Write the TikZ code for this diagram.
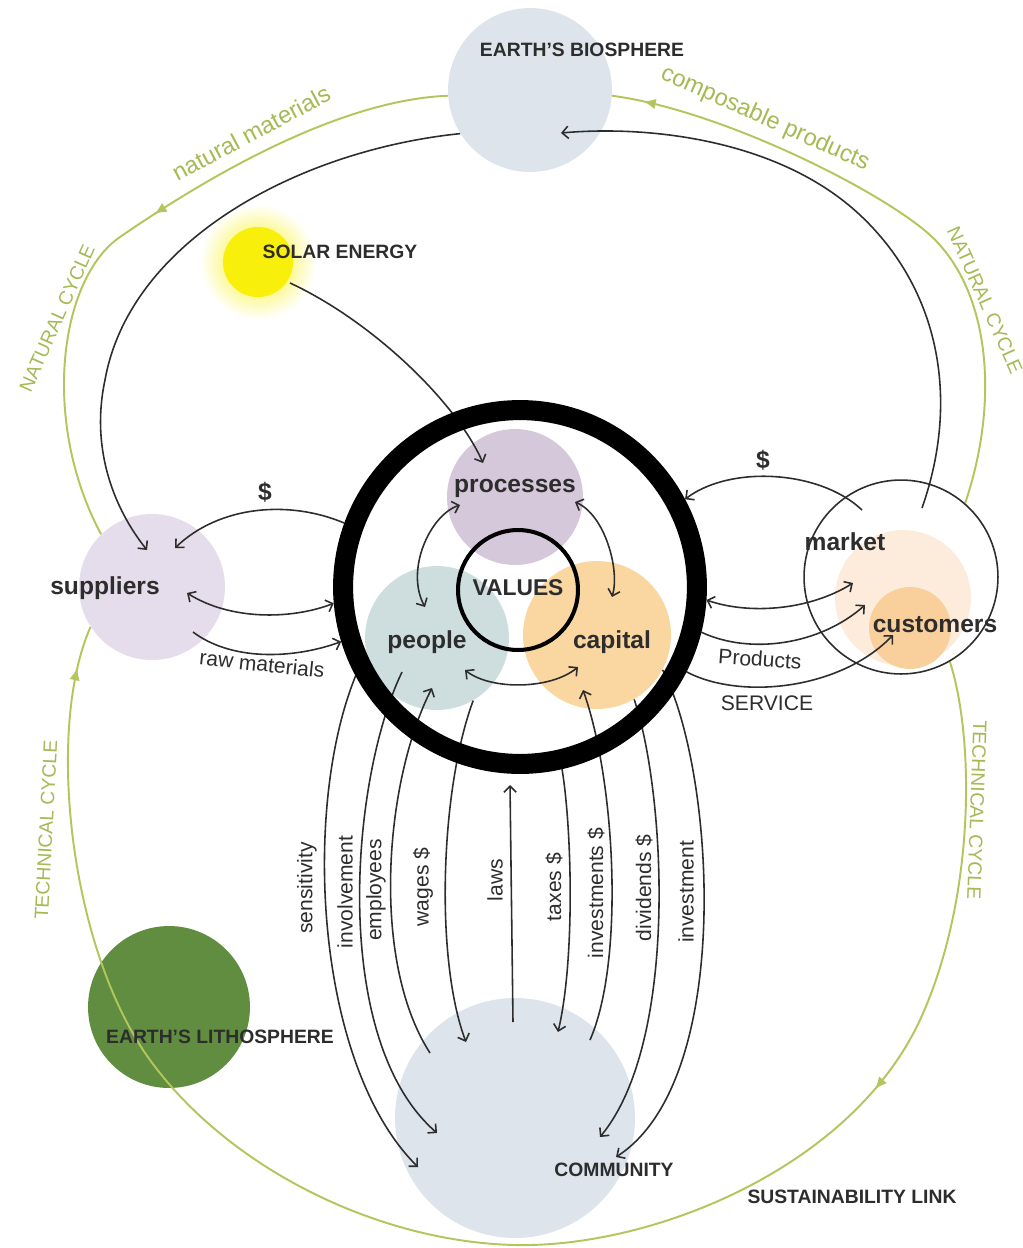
\documentclass[tikz,border=0pt]{standalone}
\usepackage{fontspec}
\setmainfont{Liberation Sans}
\usepackage{tikz}
\usetikzlibrary{arrows.meta, decorations.markings}
\definecolor{ink}{RGB}{45, 45, 45}
\definecolor{sky}{RGB}{222, 228, 236}
\definecolor{lilac}{RGB}{229, 221, 235}
\definecolor{mauve}{RGB}{214, 200, 219}
\definecolor{sage}{RGB}{206, 222, 222}
\definecolor{apricot}{RGB}{250, 214, 160}
\definecolor{cream}{RGB}{253, 236, 220}
\definecolor{peach}{RGB}{249, 208, 156}
\definecolor{moss}{RGB}{96, 141, 64}
\definecolor{sun}{RGB}{248, 240, 10}
\definecolor{cycle}{RGB}{178, 198, 92}
\definecolor{cycletext}{RGB}{165, 186, 84}

\pgfdeclarelayer{back}
\pgfdeclarelayer{front}
\pgfsetlayers{back,main,front}

\tikzset{
  bubble/.style={circle, inner sep=0pt, minimum size=#1*0.04cm},
  flow/.style={draw=ink, line width=0.9pt},
  cyc/.style={draw=cycle, line width=1.1pt, postaction={decorate}},
  caps/.style={text=ink, font=\fontsize{11}{13}\selectfont\bfseries},
  big/.style={text=ink, font=\fontsize{14}{16}\selectfont\bfseries},
  small/.style={text=ink, font=\fontsize{12}{14}\selectfont},
  green/.style={text=cycletext, font=\fontsize{11}{13}\selectfont}
}

\begin{document}
\begin{tikzpicture}[x=0.02cm, y=-0.02cm, >={Straight Barb[length=3.5pt, width=7pt]}]
  \useasboundingbox (0, 0) rectangle (1023, 1248);
  \begin{pgfonlayer}{back}
    \fill[white] (0, 0) rectangle (1023, 1248);
  \end{pgfonlayer}

  % the parties
  \node[bubble=82, fill=sky] (bios) at (530, 90) {};
  \node[bubble=120, fill=sky] (comm) at (515, 1118) {};
  \node[bubble=58, inner color=sun, outer color=white] (solar) at (258, 262) {};
  \fill[sun] (solar.center) circle[radius=35];
  \node[bubble=73, fill=lilac] (sup) at (152, 587) {};
  \node[bubble=68, fill=mauve] (proc) at (515, 497) {};
  \node[bubble=72, fill=sage] (peop) at (437, 638) {};
  \node[bubble=74, fill=apricot] (capi) at (597, 635) {};
  \node[bubble=60, draw=black, line width=2.3pt] (vals) at (518, 590) {};
  \node[bubble=97, draw=ink, fill=white, line width=0.9pt] (mkt) at (901, 577) {};
  \node[bubble=68, fill=cream] (mktin) at (903, 598) {};
  \node[bubble=41, fill=peach] (cust) at (910, 628) {};
  \coordinate (lawsTip) at (510, 785);

  \begin{pgfonlayer}{back}
    \node[bubble=81, fill=moss] (lith) at (169, 1007) {};
  \end{pgfonlayer}

  \begin{pgfonlayer}{front}
    \node[bubble=177, draw=black, line width=11.4pt] (org) at (520, 587) {};
  \end{pgfonlayer}

  % natural and technical cycles
  \begin{pgfonlayer}{back}
    \draw[cyc, decoration={markings, mark=at position 0.47 with {\arrow{Latex[length=7pt, width=6pt]}}}]
      (bios.184) .. controls (340, 100) and (210, 175) .. (120, 237)
                 .. controls (60, 278) and (40, 420) .. (sup.134);
    \draw[cyc, decoration={markings, mark=at position 0.95 with {\arrow{Latex[length=7pt, width=6pt]}}}]
      (mkt.49) .. controls (1000, 400) and (990, 290) .. (930, 235)
               .. controls (880, 190) and (720, 110) .. (bios.356);
    \draw[cyc, decoration={markings, mark=at position 0.26 with {\arrow{Latex[length=7pt, width=6pt]}},
                           mark=at position 0.975 with {\arrow{Latex[length=7pt, width=6pt]}}}]
      (mkt.300) .. controls (975, 740) and (975, 900) .. (920, 1020)
                .. controls (850, 1170) and (650, 1248) .. (515, 1245)
                .. controls (380, 1242) and (230, 1170) .. (150, 1060)
                .. controls (70, 950) and (45, 730) .. (sup.213);
  \end{pgfonlayer}

  % outer flows
  \draw[flow, ->] (bios.212) .. controls (300, 150) and (130, 240) .. (105, 380)
                  .. controls (90, 450) and (115, 510) .. ([shift={(-5, -37)}]sup.center);
  \draw[flow, ->] ([shift={(21, -69)}]mkt.center) .. controls (960, 400) and (940, 290) .. (860, 215)
                  .. controls (780, 140) and (650, 125) .. ([shift={(31, 43)}]bios.center);
  \draw[flow, ->] ([shift={(32, 21)}]solar.center) .. controls (370, 320) and (455, 400) .. ([shift={(-32, -34)}]proc.center);
  \draw[flow, ->] (org.160) .. controls (290, 500) and (220, 505) .. ([shift={(23, -39)}]sup.center);
  \draw[flow, <->] ([shift={(35, 6)}]sup.center) .. controls (230, 620) and (290, 620) .. (org.185);
  \draw[flow, ->] ([shift={(41, 45)}]sup.center) .. controls (230, 660) and (290, 660) .. (org.197);
  \draw[flow, ->] ([shift={(-39, -67)}]mkt.center) .. controls (820, 470) and (730, 465) .. (org.28);
  \draw[flow, <->] (org.-4) .. controls (750, 615) and (810, 610) .. ([shift={(-48, 6)}]mkt.center);
  \draw[flow, ->] (org.-14) .. controls (750, 655) and (820, 645) .. ([shift={(-36, 28)}]mkt.center);
  \draw[flow, ->] (org.-27) .. controls (740, 700) and (840, 690) .. ([shift={(-17, 7)}]cust.center);

  % inside the organisation
  \draw[flow, <->] ([shift={(-55, 8)}]proc.center) .. controls (430, 515) and (405, 570) .. ([shift={(-12, -31)}]peop.center);
  \draw[flow, <->] ([shift={(60, 5)}]proc.center) .. controls (605, 515) and (620, 570) .. ([shift={(15, -38)}]capi.center);
  \draw[flow, <->] ([shift={(28, 32)}]peop.center) .. controls (490, 690) and (550, 690) .. ([shift={(-19, 32)}]capi.center);

  % to and from the community
  \draw[flow, <->] (peop.192) .. controls (300, 780) and (310, 1060) .. ([shift={(-97, 49)}]comm.center);
  \draw[flow, ->] ([shift={(-35, 34)}]peop.center) .. controls (350, 780) and (330, 1040) .. ([shift={(-78, 15)}]comm.center);
  \draw[flow, <-] ([shift={(-5, 50)}]peop.center) .. controls (385, 780) and (370, 960) .. ([shift={(-85, -65)}]comm.center);
  \draw[flow, ->] (peop.300) .. controls (440, 790) and (435, 960) .. ([shift={(-49, -76)}]comm.center);
  \draw[flow, ->] ([shift={(-2, -96)}]comm.center) -- (lawsTip);
  \draw[flow, ->] (org.-77) .. controls (572, 830) and (575, 960) .. ([shift={(43, -86)}]comm.center);
  \draw[flow, <-] ([shift={(-14, 55)}]capi.center) .. controls (615, 780) and (625, 960) .. ([shift={(75, -78)}]comm.center);
  \draw[flow, ->] (capi.300) .. controls (665, 790) and (680, 1040) .. ([shift={(85, 19)}]comm.center);
  \draw[flow, ->] (capi.332) .. controls (715, 770) and (735, 1080) .. ([shift={(101, 39)}]comm.center);

  % labels
  \node[caps] (biosLbl) at (582, 50) {EARTH'S BIOSPHERE};
  \node[caps] (solarLbl) at (340, 252) {SOLAR ENERGY};
  \node[caps] (lithLbl) at (220, 1037) {EARTH'S LITHOSPHERE};
  \node[caps] (commLbl) at (614, 1170) {COMMUNITY};
  \node[caps] (linkLbl) at (852, 1197) {SUSTAINABILITY LINK};
  \node[big] (supLbl) at (105, 588) {suppliers};
  \node[big] (procLbl) at (515, 488) {processes};
  \node[big] (peopLbl) at (427, 642) {people};
  \node[big] (capiLbl) at (612, 642) {capital};
  \node[big] (mktLbl) at (845, 542) {market};
  \node[big] (custLbl) at (935, 625) {customers};
  \node[big, font=\fontsize{13}{15}\selectfont\bfseries] (valsLbl) at (518, 588) {VALUES};
  \node[big] (dolL) at (265, 492) {\$};
  \node[big] (dolR) at (763, 460) {\$};
  \node[small, rotate=-6] (rawLbl) at (262, 664) {raw materials};
  \node[small, rotate=-4] (prodLbl) at (760, 659) {Products};
  \node[small] (servLbl) at (767, 703) {SERVICE};

  \node[small, rotate=90] (sensLbl) at (307, 888) {sensitivity};
  \node[small, rotate=90] (invlLbl) at (345, 892) {involvement};
  \node[small, rotate=90] (emplLbl) at (376, 890) {employees};
  \node[small, rotate=90] (wageLbl) at (423, 887) {wages \$};
  \node[small, rotate=90] (lawsLbl) at (495, 880) {laws};
  \node[small, rotate=90] (taxLbl) at (554, 887) {taxes \$};
  \node[small, rotate=90] (invsLbl) at (596, 893) {investments \$};
  \node[small, rotate=90] (divLbl) at (644, 888) {dividends \$};
  \node[small, rotate=90] (invtLbl) at (686, 892) {investment};

  \node[green, font=\fontsize{13.5}{15}\selectfont, rotate=28] (natLbl) at (251, 133) {natural materials};
  \node[green, font=\fontsize{13.5}{15}\selectfont, rotate=-24] (compLbl) at (765, 119) {composable products};
  \node[green, rotate=66] (ncLeft) at (57, 318) {NATURAL CYCLE};
  \node[green, rotate=-66] (ncRight) at (985, 300) {NATURAL CYCLE};
  \node[green, rotate=87] (tcLeft) at (46, 830) {TECHNICAL CYCLE};
  \node[green, rotate=-92] (tcRight) at (977, 810) {TECHNICAL CYCLE};
\end{tikzpicture}
\end{document}
